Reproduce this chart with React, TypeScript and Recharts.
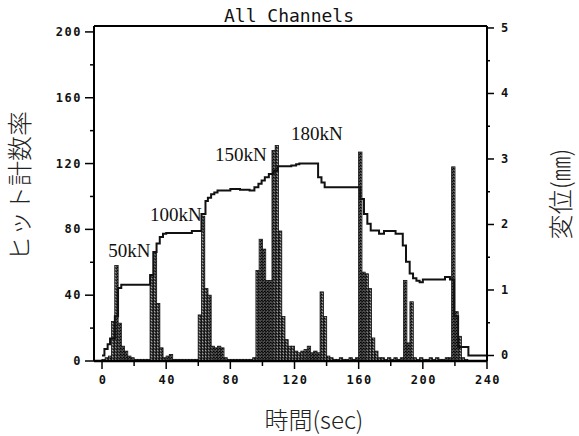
import React from 'react';
import {
  ComposedChart,
  Bar,
  Line,
  XAxis,
  YAxis,
  ReferenceLine,
  ReferenceDot,
} from 'recharts';

// hit count rate, 2 s bins starting at t = 0
const hitCounts = [
  1, 2, 3, 24, 58, 23, 9, 6, 3, 2, // 0-20 s
  1, 1, 1, 1, 1, 52, 66, 35, 8, 2, // 20-40 s
  3, 4, 1, 1, 1, 1, 1, 1, 1, 1, // 40-60 s
  28, 88, 44, 40, 9, 8, 9, 8, 2, 1, // 60-80 s
  1, 1, 1, 1, 1, 1, 1, 2, 55, 74, // 80-100 s
  68, 49, 49, 128, 131, 79, 27, 13, 9, 9, // 100-120 s
  6, 5, 6, 7, 9, 5, 6, 5, 42, 27, // 120-140 s
  3, 2, 1, 1, 2, 1, 1, 2, 1, 2, // 140-160 s
  127, 54, 53, 44, 14, 6, 2, 2, 1, 2, // 160-180 s
  1, 2, 1, 2, 49, 11, 36, 2, 1, 2, // 180-200 s
  1, 1, 2, 1, 2, 1, 1, 2, 2, 118, // 200-220 s
  30, 15, 2, 1, 0, // 220-230 s
];
const BIN = 2;

// displacement (mm), step changes
const dispTimes = [
  0, 1.5, 3.5, 5, 8, 10, 12, 30, 32, 34, 36, 38, 40, 56, 62, 64.5, 66, 68, 70, 72,
  80, 86, 92, 95, 97.5, 99.5, 101.5, 104, 107, 109.5, 118, 121, 123, 134.7, 136.8,
  138.8, 161, 163.3, 165.4, 167.5, 172.7, 175.8, 183, 187.5, 189.5, 191.8, 193.9,
  196, 198, 200, 213.8, 216.9, 219.5, 222, 228.4, 240,
];
const dispValues = [
  0, 0.1, 0.17, 0.26, 0.6, 1.03, 1.08, 1.23, 1.58, 1.71, 1.81, 1.86, 1.87, 1.9, 2.16,
  2.36, 2.41, 2.46, 2.49, 2.52, 2.54, 2.53, 2.52, 2.57, 2.62, 2.67, 2.72, 2.77, 2.82,
  2.89, 2.9, 2.92, 2.93, 2.72, 2.64, 2.57, 2.39, 2.16, 2.01, 1.91, 1.86, 1.9, 1.86,
  1.68, 1.43, 1.25, 1.18, 1.14, 1.12, 1.16, 1.2, 1.16, 0.6, 0.13, 0, 0,
];

const loadLabels = ['50kN', '100kN', '150kN', '180kN'];
const loadLabelX = [17, 46, 86.5, 134];
const loadLabelY = [67, 89, 125, 138];

const xTicks = [0, 20, 40, 60, 80, 100, 120, 140, 160, 180, 200, 220, 240];
const leftTicks = [0, 20, 40, 60, 80, 100, 120, 140, 160, 180, 200];
const rightTicks = [0, 0.5, 1, 1.5, 2, 2.5, 3, 3.5, 4, 4.5, 5];

const LEFT_MAX = 203.6;
const BAR_W = 3.4; // px, one 2 s bin

const hitData = hitCounts.map((v, i) => ({ t: i * BIN + BIN / 2, hits: v }));
const dispData = dispTimes.map((t, i) => ({ t, disp: dispValues[i] }));

const tickFont = {
  fontFamily: '"DejaVu Sans Mono", monospace',
  fontWeight: 700,
  fontSize: 12,
  letterSpacing: 1.5,
  fill: '#111',
};

const BottomTick = (props: any) => {
  const { x, y, payload } = props;
  const major = payload.value % 40 === 0;
  return (
    <g>
      <line x1={x} x2={x} y1={y} y2={y + (major ? 8 : 5)} stroke="#000" strokeWidth={1.5} />
      {major && (
        <text x={x + 1} y={y + 23} textAnchor="middle" {...tickFont}>
          {payload.value}
        </text>
      )}
    </g>
  );
};

const LeftTick = (props: any) => {
  const { x, y, payload } = props;
  const major = payload.value % 40 === 0;
  return (
    <g>
      <line x1={x} x2={x - (major ? 9 : 4)} y1={y} y2={y} stroke="#000" strokeWidth={1.5} />
      {major && (
        <text x={x - 12} y={y + 4} textAnchor="end" {...tickFont}>
          {payload.value}
        </text>
      )}
    </g>
  );
};

const RightTick = (props: any) => {
  const { x, y, payload } = props;
  const major = Number.isInteger(payload.value);
  return (
    <g>
      <line x1={x} x2={x + (major ? 7 : 3)} y1={y} y2={y} stroke="#000" strokeWidth={1.5} />
      {major && (
        <text x={x + 14} y={y + 4} textAnchor="start" {...tickFont}>
          {payload.value}
        </text>
      )}
    </g>
  );
};

const HitBar = (p: any) => {
  if (!p.height || p.height <= 0) return null;
  return (
    <rect
      x={p.x + p.width / 2 - BAR_W / 2}
      y={p.y}
      width={BAR_W}
      height={p.height}
      fill="url(#stipple)"
      stroke="#111"
      strokeWidth={0.8}
    />
  );
};

export default function App() {
  return (
    <div style={{ position: 'absolute', left: 0, top: 0, width: 579, height: 436, background: '#fff' }}>
      <ComposedChart
        width={579}
        height={436}
        data={hitData}
        margin={{ top: 26, right: 0, bottom: 0, left: 0 }}
      >
        <defs>
          <pattern id="stipple" width="3" height="3" patternUnits="userSpaceOnUse">
            <rect width="3" height="3" fill="#4a4a4a" />
            <rect x="0" y="0" width="1" height="1" fill="#000" />
            <rect x="2" y="1" width="1" height="1" fill="#111" />
            <rect x="1" y="2" width="1" height="1" fill="#a8a8a8" />
          </pattern>
        </defs>
        <XAxis
          dataKey="t"
          type="number"
          domain={[-5, 240]}
          allowDataOverflow
          ticks={xTicks}
          interval={0}
          height={75}
          tickSize={0}
          tickMargin={0}
          tickLine={false}
          axisLine={{ stroke: '#000', strokeWidth: 2.5 }}
          tick={<BottomTick />}
        />
        <YAxis
          yAxisId="left"
          orientation="left"
          type="number"
          domain={[0, LEFT_MAX]}
          allowDataOverflow
          ticks={leftTicks}
          interval={0}
          width={94}
          tickSize={0}
          tickMargin={0}
          tickLine={false}
          axisLine={{ stroke: '#000', strokeWidth: 2 }}
          tick={<LeftTick />}
        />
        <YAxis
          yAxisId="right"
          orientation="right"
          type="number"
          domain={[-0.084, 5.03]}
          allowDataOverflow
          ticks={rightTicks}
          interval={0}
          width={92}
          tickSize={0}
          tickMargin={0}
          tickLine={false}
          axisLine={{ stroke: '#000', strokeWidth: 2 }}
          tick={<RightTick />}
        />
        <ReferenceLine yAxisId="left" y={LEFT_MAX} stroke="#000" strokeWidth={2} />
        <Bar
          yAxisId="left"
          dataKey="hits"
          shape={<HitBar />}
          isAnimationActive={false}
        />
        <Line
          yAxisId="right"
          data={dispData}
          dataKey="disp"
          type="stepAfter"
          stroke="#111"
          strokeWidth={2}
          dot={false}
          activeDot={false}
          isAnimationActive={false}
        />
        {loadLabels.map((label, i) => (
          <ReferenceDot
            key={label}
            yAxisId="left"
            x={loadLabelX[i]}
            y={loadLabelY[i]}
            r={0}
            shape={(p: any) => (
              <text
                x={p.cx}
                y={p.cy + 6}
                textAnchor="middle"
                fontFamily='"Liberation Serif", "DejaVu Serif", serif'
                fontSize={19}
                fill="#111"
              >
                {label}
              </text>
            )}
          />
        ))}
      </ComposedChart>
      <svg
        width={579}
        height={436}
        style={{ position: 'absolute', left: 0, top: 0, pointerEvents: 'none' }}
      >
        <text
          x={289}
          y={22}
          textAnchor="middle"
          fontFamily='"DejaVu Sans Mono", monospace'
          fontSize={18}
          fill="#111"
        >
          All Channels
        </text>
        <text
          x={0}
          y={0}
          transform="translate(29 186) rotate(-90)"
          textAnchor="middle"
          fontFamily='"Noto Sans CJK JP", sans-serif'
          fontWeight={300}
          fontSize={25}
          fill="#222"
        >
          ヒット計数率
        </text>
        <text
          x={314}
          y={429}
          textAnchor="middle"
          fontFamily='"Noto Sans CJK JP", sans-serif'
          fontWeight={300}
          fontSize={24}
          fill="#222"
        >
          時間(sec)
        </text>
        <text
          x={0}
          y={0}
          transform="translate(570 194) rotate(-90)"
          textAnchor="middle"
          fontFamily='"Noto Sans CJK JP", sans-serif'
          fontWeight={300}
          fontSize={25}
          fill="#222"
        >
          変位(㎜)
        </text>
      </svg>
    </div>
  );
}
